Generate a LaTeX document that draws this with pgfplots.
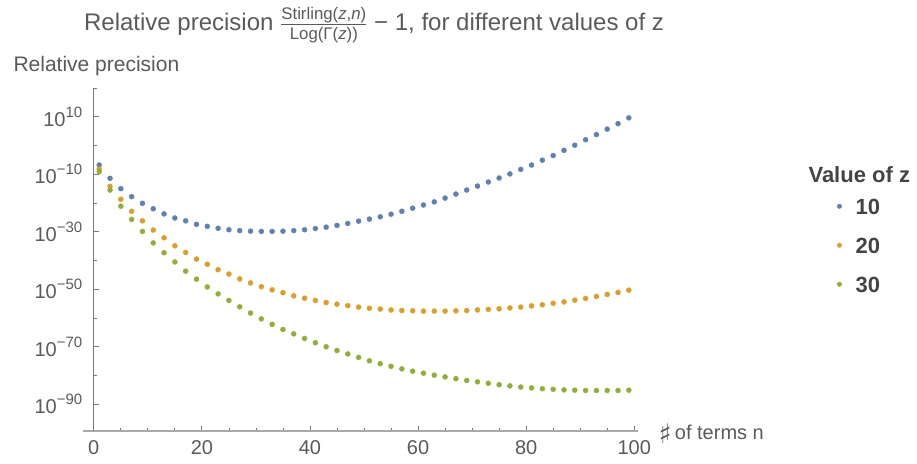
\documentclass[border=0pt]{standalone}
\usepackage{pgfplots}
\pgfplotsset{compat=1.18}
\usepackage{pgfplotstable}
\usepackage{amsmath}
\usepackage{fontspec}
\setmainfont{Liberation Sans}
\newfontfamily\djv{DejaVu Sans}
\definecolor{c1}{HTML}{5E81B5}
\definecolor{c2}{HTML}{E19C24}
\definecolor{c3}{HTML}{8FB032}
\definecolor{tgray}{HTML}{5A5A5A}
\definecolor{lgray}{HTML}{444444}
\definecolor{axgray}{HTML}{AAAAAA}
\definecolor{axgray2}{HTML}{777777}
\newcommand{\sz}{\fontsize{20}{24}\selectfont}
\newcommand{\tl}[1]{10\raisebox{0.45em}{\fontsize{15}{15}\selectfont #1}}

\pgfplotstableread{
n  a       b       c
1  1.6e-7  6.3e-9  7.9e-10
3  4.0e-12 6.3e-15 3.2e-16
5  1.0e-15 2.0e-19 7.9e-22
7  1.6e-18 1.3e-23 2.0e-26
9  7.9e-21 6.3e-27 1.3e-30
11 1.0e-22 4.0e-30 1.3e-34
13 1.6e-24 7.9e-33 5.0e-38
15 6.3e-26 1.3e-35 3.2e-41
17 6.3e-27 6.3e-38 2.0e-44
19 4.0e-28 3.2e-40 3.2e-47
21 7.9e-29 5.0e-42 6.3e-50
23 1.6e-29 6.3e-44 2.5e-52
25 5.0e-30 2.0e-45 1.3e-54
27 2.5e-30 4.0e-47 7.9e-57
29 1.6e-30 1.6e-48 5.0e-59
31 1.3e-30 7.9e-50 5.0e-61
33 1.3e-30 6.3e-51 6.3e-63
35 1.6e-30 6.3e-52 1.0e-64
37 2.5e-30 5.0e-53 3.2e-66
39 5.0e-30 7.9e-54 7.9e-68
41 1.3e-29 1.3e-54 2.5e-69
43 4.0e-29 2.5e-55 1.0e-70
45 1.6e-28 6.3e-56 5.0e-72
47 7.9e-28 2.0e-56 3.2e-73
49 5.0e-27 6.3e-57 2.0e-74
51 2.5e-26 2.5e-57 1.3e-75
53 1.6e-25 1.3e-57 1.3e-76
55 1.3e-24 6.3e-58 1.6e-77
57 1.3e-23 4.0e-58 2.0e-78
59 1.6e-22 3.2e-58 3.2e-79
61 2.0e-21 2.5e-58 6.3e-80
63 2.5e-20 2.5e-58 1.3e-80
65 5.0e-19 2.5e-58 3.2e-81
67 1.3e-17 3.2e-58 7.9e-82
69 3.2e-16 4.0e-58 2.0e-82
71 7.9e-15 6.3e-58 6.3e-83
73 2.0e-13 1.0e-57 2.0e-83
75 5.0e-12 1.6e-57 6.3e-84
77 1.3e-10 3.2e-57 2.5e-84
79 5.0e-9  6.3e-57 1.0e-84
81 1.6e-7  1.6e-56 5.0e-85
83 7.9e-6  4.0e-56 2.5e-85
85 3.2e-4  1.3e-55 1.6e-85
87 2.0e-2  4.0e-55 1.0e-85
89 1.26    1.6e-54 7.9e-86
91 1.0e2   6.3e-54 6.3e-86
93 6.3e3   3.2e-53 6.3e-86
95 5.0e5   1.6e-52 6.3e-86
97 4.0e7   7.9e-52 6.3e-86
99 4.0e9   5.0e-51 7.9e-86
}\data

\begin{document}
\begin{tikzpicture}
\begin{axis}[
  at={(83pt,32pt)}, anchor=south west,
  scale only axis, width=555pt, height=343pt,
  xmin=-2, xmax=100.7,
  ymode=log, ymin=5e-100, ymax=1e20,
  axis x line=bottom, axis y line=middle,
  x axis line style={-, draw=axgray, line width=1.1pt},
  y axis line style={-, draw=axgray2, line width=0.8pt},
  hide obscured x ticks=false, hide obscured y ticks=false,
  xtick={0,20,40,60,80,100},
  xticklabels={0,20,40,60,80,100},
  minor xtick={5,10,15,25,30,35,45,50,55,65,70,75,85,90,95},
  ytick={1e10,1e-10,1e-30,1e-50,1e-70,1e-90},
  yticklabels={\tl{10},\tl{−10},\tl{−30},\tl{−50},\tl{−70},\tl{−90}},
  minor ytick={1e20,1,1e-20,1e-40,1e-60,1e-80},
  tick align=inside, major tick length=5pt, minor tick length=3pt,
  tick style={draw=axgray2, line width=0.8pt},
  ticklabel style={font=\sz, text=tgray},
  xticklabel style={yshift=-6pt},
  yticklabel style={xshift=-8pt},
  clip=false,
  legend style={at={(1.3586,0.679)}, anchor=north west, draw=none, fill=none,
    inner sep=0pt, font=\bfseries\fontsize{22}{26}\selectfont, text=lgray,
    row sep=23pt, column sep=14pt,
    nodes={inner sep=0pt, text height=16pt, text depth=0pt}},
  legend cell align=left,
  legend image code/.code={\draw[#1] plot coordinates {(0pt,0pt)};},
  legend image post style={mark size=2.2pt},
]
\addplot[only marks, mark=*, mark size=2.5pt, color=c1, mark options={draw=none, fill=c1}] table[x=n, y=a] {\data};
\addlegendentry{10}
\addplot[only marks, mark=*, mark size=2.5pt, color=c2, mark options={draw=none, fill=c2}] table[x=n, y=b] {\data};
\addlegendentry{20}
\addplot[only marks, mark=*, mark size=2.5pt, color=c3, mark options={draw=none, fill=c3}] table[x=n, y=c] {\data};
\addlegendentry{30}
\end{axis}
\node[anchor=base, text=tgray, font=\fontsize{24}{29}\selectfont] at (374pt,432pt) {Relative precision $\frac{\text{Stirling(\textit{z},\textit{n})}}{\text{Log(Γ(\textit{z}))}}$ − 1, for different values of z};
\node[anchor=base west, text=tgray, font=\fontsize{21}{25}\selectfont] at (10pt,391pt) {Relative precision};
\node[anchor=base west, text=tgray, font=\sz] at (655pt,24pt) {\raisebox{-4.5pt}{\djv\fontsize{27}{27}\selectfont ♯}\,of terms n};
\node[anchor=base west, text=lgray] at (805pt,280pt) {\bfseries\fontsize{22}{26}\selectfont Value of z};
\pgfresetboundingbox
\path (0pt,0pt) rectangle (917pt,463pt);
\end{tikzpicture}
\end{document}
